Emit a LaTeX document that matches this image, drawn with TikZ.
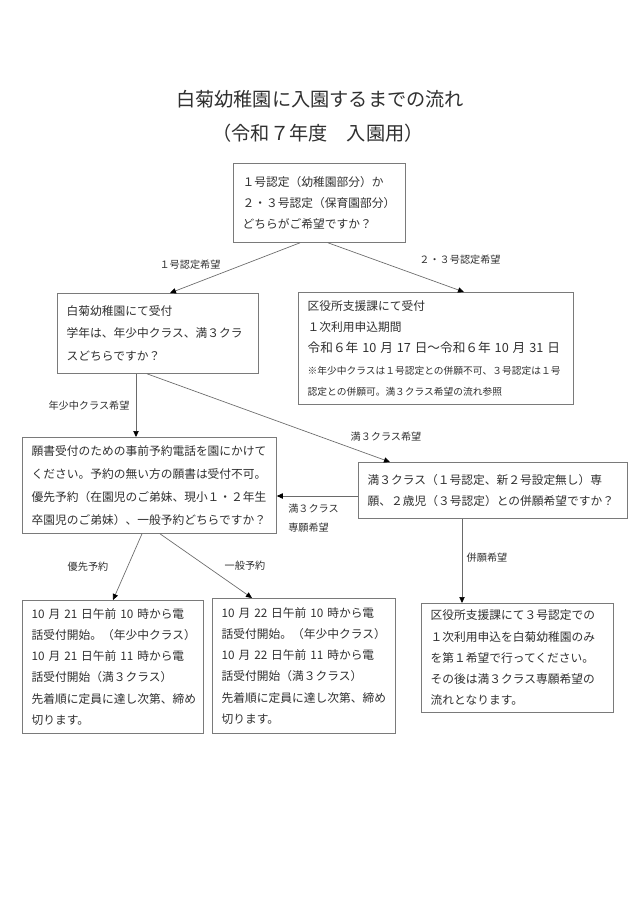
\documentclass[tikz,border=0pt]{standalone}
\usepackage{fontspec}
\setmainfont{Noto Sans CJK JP}
\usetikzlibrary{arrows.meta,calc}
\definecolor{boxgray}{HTML}{7A7A7A}
\definecolor{linegray}{HTML}{6A6A6A}
\definecolor{txt}{HTML}{303030}
\tikzset{
  box/.style={draw=boxgray, line width=0.6pt, anchor=north west, align=left,
    inner xsep=7pt, inner ysep=0pt, text=txt,
    font=\fontsize{8.8}{15.9}\selectfont},
  lbl/.style={text=txt, font=\fontsize{7.6}{14}\selectfont, inner sep=0pt},
  conn/.style={draw=linegray, line width=0.5pt, -{Triangle[length=4.5pt,width=4pt,fill=black,color=black]}}
}
\begin{document}
\begin{tikzpicture}[x=0.75pt,y=-0.75pt]
\useasboundingbox (0,0) rectangle (640,905);
\fill[white] (0,0) rectangle (640,905);
% titles
\node[text=txt, font=\fontsize{14.4}{18}\selectfont, inner sep=0pt] (t1) at (320,99) {白菊幼稚園に入園するまでの流れ};
\node[text=txt, font=\fontsize{14.4}{18}\selectfont, inner sep=0pt] (t2) at (318,133) {（令和７年度　入園用）};
% boxes
\node[box, minimum width=129pt, minimum height=59.25pt, text width=115pt] (b1) at (233,163)
  {１号認定（幼稚園部分）か\\２・３号認定（保育園部分）\\どちらがご希望ですか？};
\node[box, minimum width=150.75pt, minimum height=60pt, text width=136.75pt, font=\fontsize{8.8}{16.8}\selectfont] (b2) at (57,293)
  {白菊幼稚園にて受付\\学年は、年少中クラス、満３クラ\\スどちらですか？};
\node[box, minimum width=206.25pt, minimum height=84pt, text width=192.25pt] (b3) at (298,292)
  {{\fontsize{8.8}{13.8}\selectfont 区役所支援課にて受付}\\
   {\fontsize{8.8}{13.8}\selectfont １次利用申込期間}\\
   {\fontsize{9.5}{15}\selectfont \mbox{令和６年 10 月 17 日〜令和６年 10 月 31 日}}\\
   {\fontsize{7.3}{13}\selectfont \mbox{※年少中クラスは１号認定との併願不可、３号認定は１号}}\\
   {\fontsize{7.3}{13}\selectfont 認定との併願可。満３クラス希望の流れ参照}};
\node[box, minimum width=190.5pt, minimum height=72pt, text width=176.5pt, font=\fontsize{8.8}{17.2}\selectfont] (b4) at (22,437)
  {願書受付のための事前予約電話を園にかけて\\ください。予約の無い方の願書は受付不可。\\優先予約（在園児のご弟妹、現小１・２年生\\卒園児のご弟妹）、一般予約どちらですか？};
\node[box, minimum width=201.75pt, minimum height=42pt, text width=187.75pt, font=\fontsize{8.8}{16.2}\selectfont] (b5) at (358,462)
  {満３クラス（１号認定、新２号設定無し）専\\願、２歳児（３号認定）との併願希望ですか？};
\node[box, minimum width=135.75pt, minimum height=99.75pt, text width=121.75pt] (b6) at (22,600)
  {10 月 21 日午前 10 時から電\\話受付開始。（年少中クラス）\\10 月 21 日午前 11 時から電\\話受付開始（満３クラス）\\先着順に定員に達し次第、締め\\切ります。};
\node[box, minimum width=137.25pt, minimum height=101.25pt, text width=123.25pt] (b7) at (212,598)
  {10 月 22 日午前 10 時から電\\話受付開始。（年少中クラス）\\10 月 22 日午前 11 時から電\\話受付開始（満３クラス）\\先着順に定員に達し次第、締め\\切ります。};
\node[box, minimum width=144pt, minimum height=81.75pt, text width=130pt] (b8) at (421,603)
  {区役所支援課にて３号認定での\\１次利用申込を白菊幼稚園のみ\\を第１希望で行ってください。\\その後は満３クラス専願希望の\\流れとなります。};
% connectors
\draw[conn] ($(b1.south west)+(67,0)$) -- ($(b2.north west)+(113,0)$);
\draw[conn] ($(b1.south west)+(95,0)$) -- ($(b3.north west)+(166,0)$);
\draw[conn] ($(b2.south west)+(79,0)$) -- ($(b4.north west)+(114,0)$);
\draw[conn] ($(b2.south west)+(90,0)$) -- ($(b5.north west)+(32,0)$);
\draw[conn] ($(b5.north west)+(0,34)$) -- ($(b4.north east)+(0,59)$);
\draw[conn] ($(b4.south west)+(120,0)$) -- ($(b6.north west)+(91,0)$);
\draw[conn] ($(b4.south west)+(138,0)$) -- ($(b7.north west)+(40,0)$);
\draw[conn] ($(b5.south west)+(104,0)$) -- ($(b8.north west)+(41,0)$);
% labels
\node[lbl] (l1) at (190,265) {１号認定希望};
\node[lbl] (l2) at (460,260) {２・３号認定希望};
\node[lbl] (l3) at (89,406) {年少中クラス希望};
\node[lbl] (l4) at (386,437) {満３クラス希望};
\node[lbl, anchor=north west, align=left] (l5) at (288,504) {満３クラス\\専願希望};
\node[lbl] (l6) at (88,567) {優先予約};
\node[lbl] (l7) at (245,566) {一般予約};
\node[lbl] (l8) at (487,558) {併願希望};
\end{tikzpicture}
\end{document}
